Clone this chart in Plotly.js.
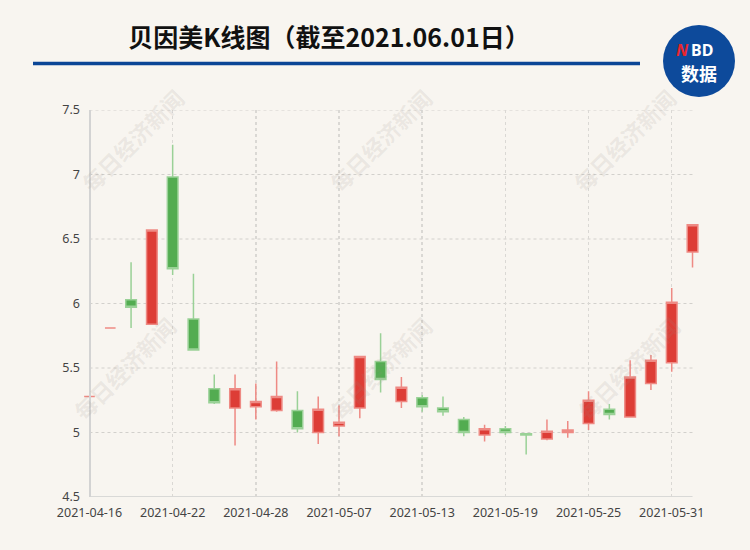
<!DOCTYPE html>
<html>
<head>
<meta charset="utf-8">
<script src="https://cdn.plot.ly/plotly-3.0.1.min.js"></script>
<style>
  html, body { margin: 0; padding: 0; background: #f8f5f0; }
  #chart { width: 750px; height: 550px; }
</style>
</head>
<body>
<div id="chart"></div>
<script>
// ---- data ----
const dates = ['2021-04-16','2021-04-19','2021-04-20','2021-04-21','2021-04-22','2021-04-23',
  '2021-04-26','2021-04-27','2021-04-28','2021-04-29','2021-04-30','2021-05-06','2021-05-07',
  '2021-05-10','2021-05-11','2021-05-12','2021-05-13','2021-05-14','2021-05-17','2021-05-18',
  '2021-05-19','2021-05-20','2021-05-21','2021-05-24','2021-05-25','2021-05-26','2021-05-27',
  '2021-05-28','2021-05-31','2021-06-01'];
const openPrices  = [5.28,5.81,6.03,5.84,6.98,5.88,5.34,5.19,5.20,5.17,5.17,5.00,5.05,5.19,5.55,
  5.24,5.27,5.19,5.10,4.98,5.03,4.99,4.95,5.00,5.07,5.18,5.12,5.38,5.54,6.40];
const closePrices = [5.28,5.81,5.97,6.57,6.27,5.64,5.23,5.34,5.24,5.28,5.03,5.18,5.08,5.59,5.41,
  5.35,5.20,5.16,5.00,5.03,5.00,4.98,5.01,5.02,5.25,5.14,5.43,5.56,6.01,6.61];
const highPrices  = [5.28,5.81,6.32,6.57,7.23,6.23,5.45,5.45,5.38,5.55,5.32,5.28,5.21,5.59,5.77,
  5.43,5.29,5.28,5.12,5.06,5.05,4.99,5.10,5.09,5.32,5.22,5.56,5.60,6.12,6.61];
const lowPrices   = [5.28,5.81,5.81,5.84,6.22,5.64,5.22,4.90,5.10,5.16,5.00,4.91,4.97,5.11,5.31,
  5.19,5.16,5.13,4.97,4.93,4.98,4.83,4.94,4.96,5.02,5.10,5.12,5.33,5.47,6.28];
const xTickLabels = ['2021-04-16','2021-04-22','2021-04-28','2021-05-07','2021-05-13',
  '2021-05-19','2021-05-25','2021-05-31'];
const yTickValues = [4.5, 5, 5.5, 6, 6.5, 7, 7.5];
const yTickLabels = ['4.5','5','5.5','6','6.5','7','7.5'];
const titleText = '贝因美K线图（截至2021.06.01日）';
const watermarkText = '每日经济新闻';

// ---- layout geometry (pixels) ----
const M = {l: 77, r: 45, t: 110, b: 53};
const W = 750 - M.l - M.r, H = 550 - M.t - M.b;
const px = x => (x - M.l) / W;
const py = y => (550 - M.b - y) / H;
const nCat = dates.length;

const trace = {
  type: 'candlestick',
  x: dates,
  open: openPrices, close: closePrices, high: highPrices, low: lowPrices,
  increasing: {line: {color: '#ee8a84', width: 1.5}, fillcolor: '#dd3d36'},
  decreasing: {line: {color: '#9ad197', width: 1.5}, fillcolor: '#53ac51'},
  whiskerwidth: 0,
  hoverinfo: 'skip',
  showlegend: false
};

const shapes = [];
// horizontal dashed grid lines between first and last category
yTickValues.forEach(v => {
  if (v === yTickValues[0]) return;
  shapes.push({type: 'line', xref: 'x', yref: 'y', x0: 0, x1: nCat - 1, y0: v, y1: v,
    line: {color: '#d2d0cc', width: 1, dash: '3px,3px'}, layer: 'below'});
});
// x axis line
shapes.push({type: 'line', xref: 'x', yref: 'y', x0: 0, x1: nCat - 1,
  y0: yTickValues[0], y1: yTickValues[0], line: {color: '#cfcfcf', width: 1.5}, layer: 'below'});
// header rule
shapes.push({type: 'line', xref: 'paper', yref: 'paper', x0: px(33), x1: px(640), y0: py(63.5), y1: py(63.5),
  line: {color: '#0b4696', width: 3.5}});
// logo circle
shapes.push({type: 'circle', xref: 'paper', yref: 'paper', x0: px(663), x1: px(735), y0: py(25), y1: py(97),
  fillcolor: '#0d4a9b', line: {width: 0}});

const annotations = [];
const wmPos = [[132, 140], [380, 140], [624, 140], [124, 368], [380, 368], [628, 368]];
wmPos.forEach(p => annotations.push({
  xref: 'paper', yref: 'paper', x: px(p[0]), y: py(p[1]), xanchor: 'center', yanchor: 'middle',
  text: '<b>' + watermarkText + '</b>',
  showarrow: false, textangle: -45,
  font: {family: 'Noto Sans CJK SC', size: 22, color: 'rgba(150,140,130,0.14)'}
}));
// logo texts
annotations.push({xref: 'paper', yref: 'paper', x: px(689.5), y: py(50), xanchor: 'right', yanchor: 'middle',
  showarrow: false, text: '<b><i>N</i></b>', borderpad: 0,
  font: {family: 'Noto Sans', size: 16, color: '#e8262c'}});
annotations.push({xref: 'paper', yref: 'paper', x: px(689.5), y: py(50), xanchor: 'left', yanchor: 'middle',
  showarrow: false, text: '<b>BD</b>', borderpad: 0,
  font: {family: 'Noto Sans', size: 16, color: '#ffffff'}});
annotations.push({xref: 'paper', yref: 'paper', x: px(699), y: py(73), xanchor: 'center', yanchor: 'middle',
  showarrow: false, text: '<b>数据</b>',
  font: {family: 'Noto Sans CJK SC', size: 18, color: '#ffffff'}});

const layout = {
  width: 750, height: 550,
  margin: M,
  paper_bgcolor: '#f8f5f0',
  plot_bgcolor: 'rgba(0,0,0,0)',
  title: {
    text: '<b>' + titleText + '</b>',
    xref: 'container', yref: 'container', x: 329 / 750, y: 1 - 38 / 550,
    xanchor: 'center', yanchor: 'middle',
    font: {family: 'Noto Sans CJK SC', size: 25, color: '#111111'}
  },
  xaxis: {
    type: 'category',
    categoryorder: 'array', categoryarray: dates,
    range: [-0.6, nCat - 1 + 0.6],
    rangeslider: {visible: false},
    tickmode: 'array', tickvals: xTickLabels, ticktext: xTickLabels,
    showgrid: true, gridcolor: '#dad8d4', gridwidth: 1.5, griddash: 'dot',
    showline: false, zeroline: false,
    ticks: 'outside', ticklen: 4, tickcolor: 'rgba(0,0,0,0)',
    tickfont: {family: 'Noto Sans', size: 12.5, color: '#444444'},
    fixedrange: true
  },
  yaxis: {
    range: [yTickValues[0], yTickValues[yTickValues.length - 1]],
    anchor: 'free', position: px(89.5),
    tickmode: 'array', tickvals: yTickValues, ticktext: yTickLabels,
    showgrid: false, zeroline: false,
    showline: true, linecolor: '#d3d3d3', linewidth: 2,
    ticks: 'outside', ticklen: 6, tickcolor: 'rgba(0,0,0,0)',
    tickfont: {family: 'Noto Sans', size: 12.5, color: '#444444'},
    fixedrange: true
  },
  shapes: shapes,
  annotations: annotations,
  boxgap: 0.27
};

Plotly.newPlot('chart', [trace], layout, {displayModeBar: false, staticPlot: true});
</script>
</body>
</html>
